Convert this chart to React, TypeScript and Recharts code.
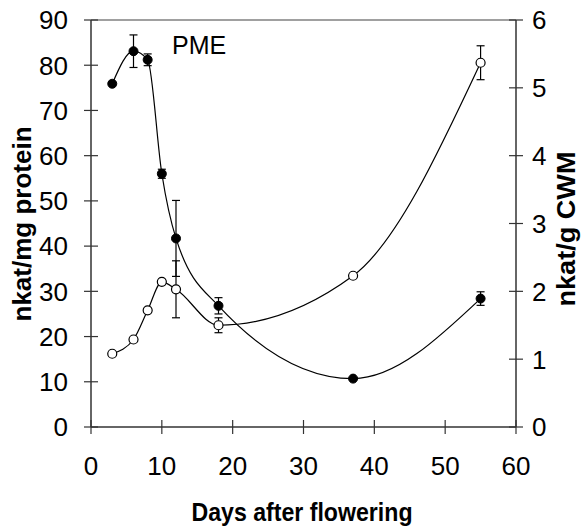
import { ComposedChart, Line, XAxis, YAxis, ErrorBar, ReferenceLine, Label } from "recharts";

// days after flowering
const days = [3, 6, 8, 10, 12, 18, 37, 55];
// filled circles, left axis (nkat/mg protein)
const proteinPME = [75.9, 83.1, 81.2, 56.0, 41.7, 26.8, 10.7, 28.4];
const proteinErr = [0, 3.6, 1.3, 1.0, 8.4, 1.8, 0, 1.5];
// open circles, right axis (nkat/g CWM)
const cwmPME = [1.08, 1.29, 1.72, 2.14, 2.03, 1.5, 2.23, 5.37];
const cwmErr = [0, 0.03, 0.03, 0, 0.42, 0.11, 0, 0.25];

const xTicks = [0, 10, 20, 30, 40, 50, 60];
const leftTicks = [0, 10, 20, 30, 40, 50, 60, 70, 80, 90];
const rightTicks = [0, 1, 2, 3, 4, 5, 6];

const data = days.map((d, i) => ({
  day: d,
  protein: proteinPME[i],
  proteinErr: proteinErr[i],
  cwm: cwmPME[i],
  cwmErr: cwmErr[i],
}));

const FONT = "'Liberation Sans', Arial, Helvetica, sans-serif";
const AXIS = "#333";
const TICK_FS = 26;

const LeftTick = ({ x, y, payload }: any) => {
  const ax = x + 23;
  return (
    <g>
      <line x1={ax - 7} x2={ax + 7} y1={y} y2={y} stroke={AXIS} strokeWidth={1.2} />
      <text x={x} y={y} dy="0.36em" textAnchor="end" fontSize={TICK_FS} fontFamily={FONT} fill="#000">
        {payload.value}
      </text>
    </g>
  );
};

const RightTick = ({ x, y, payload }: any) => {
  const ax = x - 16;
  return (
    <g>
      <line x1={ax - 7} x2={ax + 7} y1={y} y2={y} stroke={AXIS} strokeWidth={1.2} />
      <text x={x} y={y} dy="0.36em" textAnchor="start" fontSize={TICK_FS} fontFamily={FONT} fill="#000">
        {payload.value}
      </text>
    </g>
  );
};

const BottomTick = ({ x, y, payload }: any) => {
  const ay = y - 29;
  return (
    <g>
      <line x1={x} x2={x} y1={ay - 7} y2={ay + 7} stroke={AXIS} strokeWidth={1.2} />
      <text x={x} y={y} dy="0.72em" textAnchor="middle" fontSize={TICK_FS} fontFamily={FONT} fill="#000">
        {payload.value}
      </text>
    </g>
  );
};

export default function App() {
  return (
    <div style={{ position: "absolute", left: 0, top: 0, background: "#fff" }}>
      <ComposedChart width={583} height={529} data={data} margin={{ top: 20, right: 0, bottom: 0, left: 0 }}>
        <XAxis
          dataKey="day"
          type="number"
          domain={[0, 60]}
          ticks={xTicks}
          height={102}
          tickSize={0}
          tickMargin={29}
          tickLine={false}
          axisLine={{ stroke: AXIS, strokeWidth: 1.5 }}
          tick={<BottomTick />}
        >
          <Label
            content={() => (
              <text
                x={302}
                y={521}
                textAnchor="middle"
                fontSize={25}
                fontWeight="bold"
                fontFamily={FONT}
                fill="#000"
                textLength={221}
                lengthAdjust="spacingAndGlyphs"
              >
                Days after flowering
              </text>
            )}
          />
        </XAxis>
        <YAxis
          yAxisId="left"
          orientation="left"
          domain={[0, 90]}
          ticks={leftTicks}
          width={91}
          tickSize={0}
          tickMargin={23}
          tickLine={false}
          axisLine={{ stroke: AXIS, strokeWidth: 1.5 }}
          tick={<LeftTick />}
        >
          <Label
            content={() => (
              <text x={31} y={224} transform="rotate(-90 31 224)" textAnchor="middle" fontSize={26} fontWeight="bold" fontFamily={FONT} fill="#000">
                nkat/mg protein
              </text>
            )}
          />
        </YAxis>
        <YAxis
          yAxisId="right"
          orientation="right"
          domain={[0, 6]}
          ticks={rightTicks}
          width={67}
          tickSize={0}
          tickMargin={16}
          tickLine={false}
          axisLine={{ stroke: AXIS, strokeWidth: 1.5 }}
          tick={<RightTick />}
        >
          <Label
            content={() => (
              <text
                x={575}
                y={229}
                transform="rotate(-90 575 229)"
                textAnchor="middle"
                fontSize={26}
                fontWeight="bold"
                fontFamily={FONT}
                fill="#000"
                textLength={155}
                lengthAdjust="spacingAndGlyphs"
              >
                nkat/g CWM
              </text>
            )}
          />
        </YAxis>
        <ReferenceLine yAxisId="left" y={90} stroke="#808080" strokeWidth={1.5}>
          <Label
            content={() => (
              <text x={172} y={54} fontSize={25} fontFamily={FONT} fill="#000">
                PME
              </text>
            )}
          />
        </ReferenceLine>
        <Line
          yAxisId="left"
          dataKey="protein"
          type="monotone"
          stroke="#000"
          strokeWidth={1.2}
          dot={{ r: 4.5, fill: "#000", stroke: "#000", strokeWidth: 1 }}
          isAnimationActive={false}
        >
          <ErrorBar dataKey="proteinErr" direction="y" width={4} stroke="#000" strokeWidth={1.2} />
        </Line>
        <Line
          yAxisId="right"
          dataKey="cwm"
          type="monotone"
          stroke="#000"
          strokeWidth={1.2}
          dot={{ r: 4.5, fill: "#fff", stroke: "#000", strokeWidth: 1.2 }}
          isAnimationActive={false}
        >
          <ErrorBar dataKey="cwmErr" direction="y" width={4} stroke="#000" strokeWidth={1.2} />
        </Line>
      </ComposedChart>
    </div>
  );
}
